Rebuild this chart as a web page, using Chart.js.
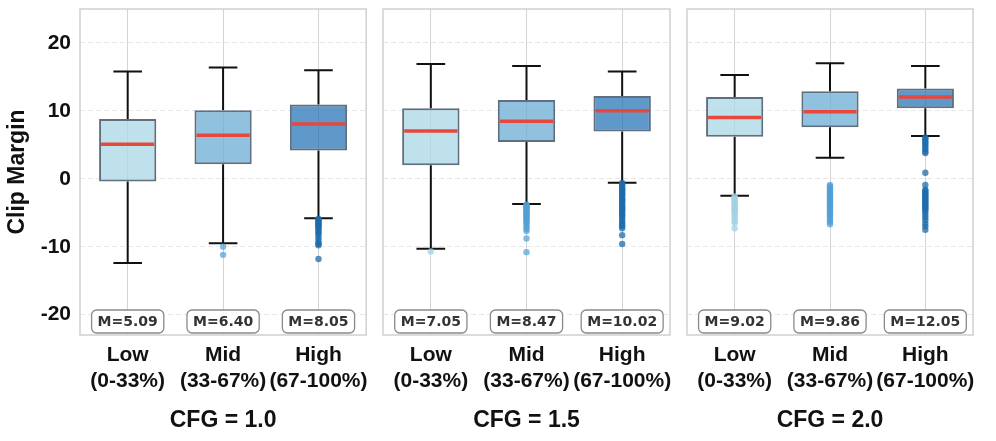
<!DOCTYPE html>
<html>
<head>
<meta charset="utf-8">
<script src="https://cdn.jsdelivr.net/npm/chart.js@4.4.1/dist/chart.umd.min.js"></script>
<style>
  html, body { margin: 0; padding: 0; background: #fff; }
  #wrap { position: relative; width: 996px; height: 441px; overflow: hidden; }
  #wrap canvas { position: absolute; top: 0; }
</style>
</head>
<body>
<div id="wrap">
  <canvas id="panel0" width="376" height="441" style="left:0px"></canvas>
  <canvas id="panel1" width="304" height="441" style="left:376px"></canvas>
  <canvas id="panel2" width="316" height="441" style="left:680px"></canvas>
</div>
<script>
(function() {
    // ---- data (one row per CFG panel, one column per group) ----
    var groups = ['Low', 'Mid', 'High'];
    var groupTicks = [['Low', '(0-33%)'], ['Mid', '(33-67%)'], ['High', '(67-100%)']];
    var cfgLabels = ['CFG = 1.0', 'CFG = 1.5', 'CFG = 2.0'];
    var yTicks = [-20, -10, 0, 10, 20];
    var yMin = -23;
    var yMax = 25;

    var whiskerLow  = [[-12.4, -9.5, -5.8], [-10.3, -3.7, -0.6], [-2.5, 3.1, 6.3]];
    var q1Values    = [[-0.4, 2.15, 4.15],  [2.0, 5.4, 6.95],    [6.2, 7.6, 10.4]];
    var medianVals  = [[5.09, 6.40, 8.05],  [7.05, 8.47, 10.02], [9.02, 9.86, 12.05]];
    var q3Values    = [[8.8, 10.1, 10.95],  [10.4, 11.6, 12.2],  [12.05, 12.9, 13.3]];
    var whiskerHigh = [[15.8, 16.4, 16.0],  [16.9, 16.6, 15.8],  [15.3, 17.0, 16.6]];

    // fliers below the lower whisker (estimated from the dot clusters)
    var outliersCfg10 = [
        [],
        [-10.0, -11.2],
        [-5.9, -6.0, -6.2, -6.3, -6.5, -6.7, -6.8, -7.0, -7.2, -7.4, -7.7, -7.9, -8.2, -8.6, -9.0, -9.4, -9.6, -9.8, -11.8]
    ];
    var outliersCfg15 = [
        [-10.7],
        [-3.8, -3.9, -4.1, -4.2, -4.4, -4.5, -4.7, -4.9, -5.0, -5.2, -5.4, -5.5, -5.7, -5.9, -6.1, -6.3, -6.5, -6.8, -7.1, -7.4, -7.7, -8.8, -10.8],
        [-0.6, -0.8, -1.0, -1.3, -1.5, -1.7, -1.9, -2.1, -2.3, -2.5, -2.8, -3.0, -3.2, -3.4, -3.6, -3.9, -4.1, -4.3, -4.5, -4.7, -4.9, -5.2, -5.4, -5.6, -5.9, -6.2, -6.5, -6.8, -7.0, -7.3, -8.3, -9.6]
    ];
    var outliersCfg20 = [
        [-2.6, -2.8, -3.0, -3.2, -3.4, -3.6, -3.8, -4.0, -4.2, -4.4, -4.6, -4.8, -5.0, -5.3, -5.6, -5.9, -6.2, -6.5, -7.3],
        [-0.9, -1.1, -1.3, -1.5, -1.7, -1.9, -2.1, -2.3, -2.5, -2.7, -2.9, -3.1, -3.3, -3.5, -3.7, -3.9, -4.1, -4.3, -4.5, -4.7, -4.9, -5.1, -5.3, -5.5, -5.8, -6.1, -6.4, -6.7],
        [6.1, 5.9, 5.7, 5.4, 5.2, 4.9, 4.6, 4.3, 4.0, 3.8, 0.9, -0.9, -1.6, -1.8, -2.0, -2.2, -2.4, -2.6, -2.8, -3.0, -3.2, -3.4, -3.6, -3.8, -4.0, -4.2, -4.4, -4.6, -4.9, -5.3, -5.7, -6.1, -6.6, -7.0, -7.5]
    ];
    var outliers = [outliersCfg10, outliersCfg15, outliersCfg20];

    // ---- styling ----
    var boxColors = ['rgba(173,216,230,0.78)', 'rgba(107,174,214,0.75)', 'rgba(33,113,181,0.72)'];
    var dotColors = ['rgba(160,210,228,0.75)', 'rgba(80,160,214,0.7)', 'rgba(30,108,172,0.75)'];
    var axisWidth = [80, 7, 7];
    var padRight = [9, 10, 23];

    Chart.defaults.font.family = '"Liberation Sans", Arial, sans-serif';
    Chart.defaults.color = '#111';

    // whiskers, frame, medians and M= badges
    var boxExtras = {
        id: 'boxExtras',
        beforeDatasetsDraw: function(chart) {
            var p = chart.options.plugins.boxExtras.panel;
            var c = chart.ctx;
            var area = chart.chartArea;
            var xs = chart.scales.x;
            var ys = chart.scales.y;
            var bars = chart.getDatasetMeta(0).data;

            c.save();
            c.strokeStyle = '#d0d0d0';
            c.lineWidth = 1.5;
            c.strokeRect(area.left, area.top, area.width, area.height);

            c.strokeStyle = '#111';
            c.lineWidth = 2;
            for (var i = 0; i < groups.length; i++) {
                var x = xs.getPixelForValue(i);
                var cap = bars[i].width / 4;
                var yHi = ys.getPixelForValue(whiskerHigh[p][i]);
                var yLo = ys.getPixelForValue(whiskerLow[p][i]);
                c.beginPath();
                c.moveTo(x, ys.getPixelForValue(q3Values[p][i]));
                c.lineTo(x, yHi);
                c.moveTo(x - cap, yHi);
                c.lineTo(x + cap, yHi);
                c.moveTo(x, ys.getPixelForValue(q1Values[p][i]));
                c.lineTo(x, yLo);
                c.moveTo(x - cap, yLo);
                c.lineTo(x + cap, yLo);
                c.stroke();
            }
            c.restore();
        },
        afterDatasetsDraw: function(chart) {
            var p = chart.options.plugins.boxExtras.panel;
            var c = chart.ctx;
            var area = chart.chartArea;
            var ys = chart.scales.y;
            var bars = chart.getDatasetMeta(0).data;

            c.save();
            for (var i = 0; i < groups.length; i++) {
                var b = bars[i];
                var ym = ys.getPixelForValue(medianVals[p][i]);
                c.strokeStyle = '#e8473b';
                c.lineWidth = 3.5;
                c.beginPath();
                c.moveTo(b.x - b.width / 2 + 2, ym);
                c.lineTo(b.x + b.width / 2 - 2, ym);
                c.stroke();

                // badge
                var txt = 'M=' + medianVals[p][i].toFixed(2);
                c.font = 'bold 14px "DejaVu Sans"';
                var w = c.measureText(txt).width + 12;
                var h = 23;
                var bx = b.x - w / 2;
                var by = area.bottom - 2 - h;
                roundRect(c, bx, by, w, h, 5);
                c.fillStyle = 'rgba(255,255,255,0.95)';
                c.fill();
                c.strokeStyle = '#8a8a8a';
                c.lineWidth = 1.3;
                c.stroke();
                c.fillStyle = '#333';
                c.textAlign = 'center';
                c.textBaseline = 'middle';
                c.fillText(txt, b.x, by + h / 2 + 1);
            }
            c.restore();
        }
    };

    function roundRect(c, x, y, w, h, r) {
        c.beginPath();
        c.moveTo(x + r, y);
        c.lineTo(x + w - r, y);
        c.arcTo(x + w, y, x + w, y + r, r);
        c.lineTo(x + w, y + h - r);
        c.arcTo(x + w, y + h, x + w - r, y + h, r);
        c.lineTo(x + r, y + h);
        c.arcTo(x, y + h, x, y + h - r, r);
        c.lineTo(x, y + r);
        c.arcTo(x, y, x + r, y, r);
        c.closePath();
    }

    function makePanel(p) {
        var ctx = document.getElementById('panel' + p);
        var boxes = [];
        for (var i = 0; i < groups.length; i++) {
            boxes.push([q1Values[p][i], q3Values[p][i]]);
        }

        var datasets = [{
            type: 'bar',
            data: boxes,
            backgroundColor: boxColors,
            borderColor: '#5f6f80',
            borderWidth: 2,
            borderSkipped: false,
            barPercentage: 0.6,
            categoryPercentage: 1.0
        }];

        for (var g = 0; g < groups.length; g++) {
            var pts = [];
            for (var k = 0; k < outliers[p][g].length; k++) {
                pts.push({ x: groups[g], y: outliers[p][g][k] });
            }
            datasets.push({
                type: 'line',
                showLine: false,
                data: pts,
                pointRadius: 3.2,
                pointHoverRadius: 3.2,
                pointBorderWidth: 0,
                pointBackgroundColor: dotColors[g],
                pointBorderColor: dotColors[g]
            });
        }

        return new Chart(ctx, {
            type: 'bar',
            data: { labels: groups, datasets: datasets },
            plugins: [boxExtras],
            options: {
                responsive: false,
                animation: false,
                events: [],
                layout: { padding: { top: 9, right: padRight[p], left: 0, bottom: 0 } },
                plugins: {
                    legend: { display: false },
                    tooltip: { enabled: false },
                    boxExtras: { panel: p }
                },
                scales: {
                    x: {
                        grid: { color: '#d4d4d4', lineWidth: 1, offset: false, drawTicks: false },
                        border: { display: false },
                        ticks: {
                            padding: 7,
                            maxRotation: 0,
                            autoSkip: false,
                            color: '#111',
                            font: { size: 21, weight: 'bold', lineHeight: 1.25 },
                            callback: function(v, i) { return groupTicks[i]; }
                        },
                        title: {
                            display: true,
                            text: cfgLabels[p],
                            color: '#111',
                            font: { size: 23, weight: 'bold', lineHeight: 1.2 },
                            padding: { top: 0, bottom: 7 }
                        },
                        afterFit: function(s) { s.height = 106; }
                    },
                    y: {
                        min: yMin,
                        max: yMax,
                        afterBuildTicks: function(s) {
                            s.ticks = yTicks.map(function(v) { return { value: v }; });
                        },
                        afterFit: function(s) {
                            s.width = axisWidth[p];
                            s.paddingTop = 0;
                            s.paddingBottom = 0;
                        },
                        grid: { color: '#e8e8e8', lineWidth: 1, drawTicks: false },
                        border: { display: false, dash: [5, 3] },
                        ticks: {
                            display: p === 0,
                            padding: 9,
                            color: '#111',
                            font: { size: 21, weight: 'bold' }
                        },
                        title: {
                            display: p === 0,
                            text: 'Clip Margin',
                            color: '#111',
                            font: { size: 23, weight: 'bold', lineHeight: 1.2 },
                            padding: { top: 4, bottom: 0 }
                        }
                    }
                }
            }
        });
    }

    for (var p = 0; p < cfgLabels.length; p++) {
        makePanel(p);
    }
})();
</script>
</body>
</html>
